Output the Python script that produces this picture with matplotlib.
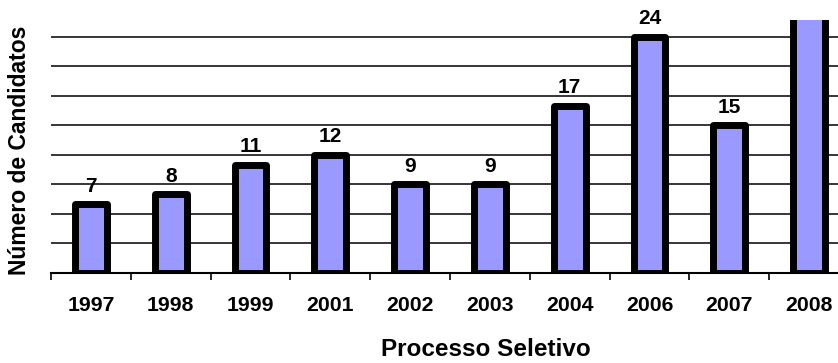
import numpy as np
import matplotlib.pyplot as plt

plt.rcParams['font.family'] = ['Liberation Sans', 'DejaVu Sans']
plt.rcParams['font.weight'] = 'bold'

anos = ['1997', '1998', '1999', '2001', '2002', '2003', '2004', '2006', '2007', '2008']
candidatos = [7, 8, 11, 12, 9, 9, 17, 24, 15, 30]

W, H = 838, 363
fig = plt.figure(figsize=(W / 100, H / 100), dpi=100)
# plot area runs past the right edge of the figure
ax = fig.add_axes([51 / W, 90 / H, 798 / W, 253 / H])
ymax = 25.7

x = np.arange(len(anos))
bars = ax.bar(x, candidatos, width=0.4, color='#9999FF', edgecolor='black',
              linewidth=5, zorder=3)
for b in bars:
    b.set_joinstyle('round')

# labels for bars taller than the axis would land off the page
for xi, v in zip(x, candidatos):
    if v > ymax:
        continue
    ax.annotate(str(v), (xi, v), xytext=(0, 9), textcoords='offset points',
                ha='center', va='baseline', fontsize=15, fontweight='bold',
                annotation_clip=False)

ax.set_xlim(-0.5, len(anos) - 0.5)
ax.set_ylim(0, ymax)

ax.set_yticks(np.arange(3, 25, 3))
ax.yaxis.grid(True, color='black', linewidth=1.1, zorder=0)
ax.tick_params(axis='y', left=False, labelleft=False)

ax.set_xticks(x)
ax.set_xticklabels(anos, fontsize=15.3, fontweight='bold')
ax.set_xticks(np.arange(-0.5, len(anos)), minor=True)
ax.tick_params(axis='x', which='major', length=0, pad=16.5)
ax.tick_params(axis='x', which='minor', length=5, width=1.2, direction='out')

for s in ['top', 'right', 'left']:
    ax.spines[s].set_visible(False)
ax.spines['bottom'].set_linewidth(1.5)
ax.spines['bottom'].set_zorder(4)

fig.text(486 / W, 1 - 349 / H, 'Processo Seletivo', ha='center', va='center',
         fontsize=17.5, fontweight='bold')
fig.text(20 / W, 1 - 150 / H, 'Número de Candidatos', ha='center', va='center',
         rotation=90, fontsize=16.5, fontweight='bold')

fig.savefig('out.png', dpi=100)
